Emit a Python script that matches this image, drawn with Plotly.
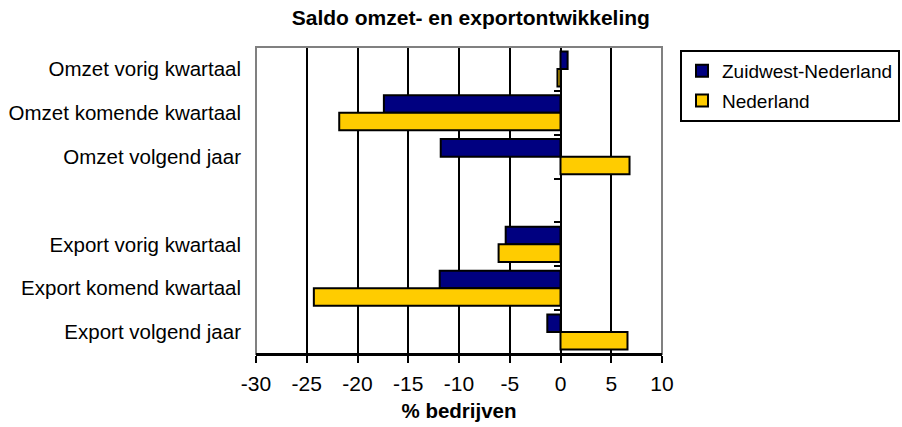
import plotly.graph_objects as go

# Survey balance (% of companies) per indicator
categories = [
    "Omzet vorig kwartaal",
    "Omzet komende kwartaal",
    "Omzet volgend jaar",
    " ",
    "Export vorig kwartaal",
    "Export komend kwartaal",
    "Export volgend jaar",
]
zuidwest = [0.7, -17.4, -11.8, None, -5.4, -11.9, -1.3]
nederland = [-0.3, -21.8, 6.8, None, -6.1, -24.3, 6.6]
x_ticks = [-30, -25, -20, -15, -10, -5, 0, 5, 10]

FONT = "Liberation Sans, Arial, sans-serif"

fig = go.Figure()
fig.add_trace(go.Bar(
    y=categories, x=zuidwest, orientation="h", name="Zuidwest-Nederland",
    marker=dict(color="#000080", line=dict(color="black", width=2)),
    legendgroup="a",
))
fig.add_trace(go.Bar(
    y=categories, x=nederland, orientation="h", name="Nederland",
    marker=dict(color="#FFCC00", line=dict(color="black", width=2)),
    legendgroup="b",
))
# helper trace so the category-boundary ticks on the zero line get drawn
fig.add_trace(go.Scatter(x=[None], y=[None], yaxis="y2", showlegend=False,
                         hoverinfo="skip"))

n = len(categories)
x_min, x_max = x_ticks[0], x_ticks[-1]

fig.update_layout(
    width=902, height=427,
    margin=dict(l=256, r=240, t=47, b=73, autoexpand=False),
    paper_bgcolor="white", plot_bgcolor="white",
    font=dict(family=FONT, size=20, color="black"),
    barmode="group", bargap=0.2, bargroupgap=0,
    title=dict(text="<b>Saldo omzet- en exportontwikkeling</b>",
               x=0.522, xanchor="center", xref="container",
               y=1 - 18 / 427, yanchor="middle", yref="container",
               font=dict(size=21, family=FONT)),
    xaxis=dict(
        range=[x_min, x_max], tickvals=x_ticks, ticktext=[str(v) for v in x_ticks],
        showgrid=True, gridcolor="black", gridwidth=2,
        zeroline=True, zerolinecolor="black", zerolinewidth=2,
        showline=True, linecolor="black", linewidth=2,
        ticks="outside", ticklen=7, tickwidth=2, tickcolor="black",
        tickfont=dict(size=21), automargin=False, ticklabelstandoff=3,
        title=dict(text="<b>% bedrijven</b>", font=dict(size=20.5), standoff=9),
    ),
    yaxis=dict(
        type="category", categoryorder="array", categoryarray=categories,
        autorange="reversed", showgrid=False, zeroline=False,
        showline=False, ticks="", ticklabelstandoff=14,
        tickfont=dict(size=20.5), automargin=False,
    ),
    yaxis2=dict(
        overlaying="y", anchor="free",
        position=(0 - x_min) / (x_max - x_min), side="left",
        range=[n - 0.5, -0.5], tickvals=[i - 0.5 for i in range(n + 1)],
        showticklabels=False, ticks="outside", ticklen=7, tickwidth=2,
        tickcolor="black", showgrid=False, zeroline=False, showline=False,
        automargin=False,
    ),
    legend=dict(
        xref="container", yref="container",
        x=680 / 902, xanchor="left", y=1 - 50 / 427, yanchor="top",
        bordercolor="black", borderwidth=2, bgcolor="white",
        font=dict(size=19, family=FONT), traceorder="grouped",
        tracegroupgap=2, itemwidth=30,
    ),
    shapes=[dict(type="rect", xref="paper", yref="paper", x0=0, x1=1, y0=0, y1=1,
                 line=dict(color="#808080", width=2), layer="above")],
)
# bottom axis line stays black over the grey frame
fig.add_shape(type="line", xref="paper", yref="paper", x0=0, x1=1, y0=0, y1=0,
              line=dict(color="black", width=2), layer="above")

fig.write_html("out.html")
